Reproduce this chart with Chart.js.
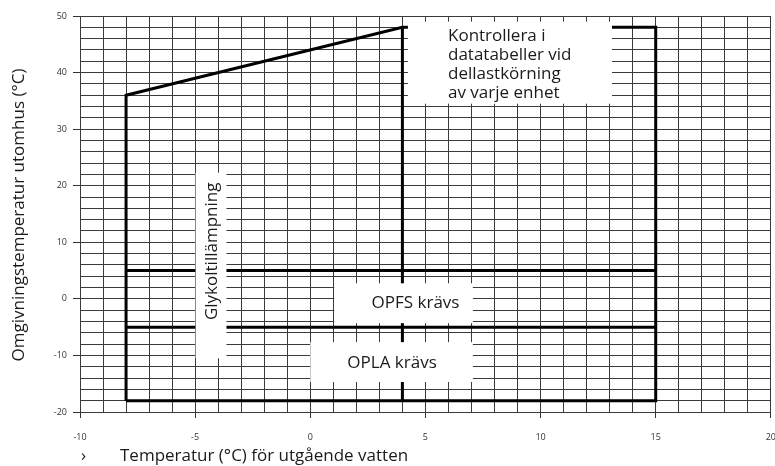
<!DOCTYPE html>
<html>
<head>
<meta charset="utf-8">
<script src="https://cdn.jsdelivr.net/npm/chart.js@4/dist/chart.umd.min.js"></script>
<style>
  html, body { margin: 0; padding: 0; background: #fff; overflow: hidden; width: 775px; height: 466px; }
  canvas { display: block; }
</style>
</head>
<body>
<canvas id="chart" width="790" height="466"></canvas>
<script>
// operating envelope (outer boundary)
var envelopeX = [-8, -8, 4, 15, 15, -8];
var envelopeY = [-18, 36, 48, 48, -18, -18];
// divider at 4 °C leaving water
var dividerX = [4, 4];
var dividerY = [48, -18];
// OPFS limit and OPLA limit
var opfsX = [-8, 15];
var opfsY = [5, 5];
var oplaX = [-8, 15];
var oplaY = [-5, -5];

var xTicks = [-10, -5, 0, 5, 10, 15, 20];
var yTicks = [-20, -10, 0, 10, 20, 30, 40, 50];

function pts(xs, ys) {
    var out = [];
    for (var i = 0; i < xs.length; i++) out.push({x: xs[i], y: ys[i]});
    return out;
}

var FONT = '"Open Sans", "Noto Sans", sans-serif';

// white label boxes, in chart units
var boxes = [
    {x0: 4.24, x1: 13.1, y0: 34.5, y1: 49.0},
    {x0: -4.98, x1: -3.64, y0: -10.5, y1: 22.3},
    {x0: 1.04, x1: 7.06, y0: -4.3, y1: 2.75},
    {x0: 0, x1: 7.06, y0: -14.7, y1: -7.65}
];

var labelPlugin = {
    id: 'labels',
    afterDatasetsDraw: function(chart) {
        var ctx = chart.ctx, sx = chart.scales.x, sy = chart.scales.y;
        ctx.save();
        ctx.fillStyle = '#fff';
        boxes.forEach(function(b) {
            var l = sx.getPixelForValue(b.x0), r = sx.getPixelForValue(b.x1);
            var t = sy.getPixelForValue(b.y1), btm = sy.getPixelForValue(b.y0);
            ctx.fillRect(l, t, r - l, btm - t);
        });
        ctx.fillStyle = '#1a1a1a';
        ctx.font = '17px ' + FONT;
        ctx.textBaseline = 'middle';
        ctx.textAlign = 'left';
        var lines = ['Kontrollera i', 'datatabeller vid', 'dellastkörning', 'av varje enhet'];
        var kx = sx.getPixelForValue(5.98), ky = sy.getPixelForValue(46.4);
        lines.forEach(function(s, i) { ctx.fillText(s, kx, ky + i * 19); });
        ctx.textAlign = 'center';
        ctx.fillText('OPFS krävs', sx.getPixelForValue(4.57), sy.getPixelForValue(-0.8));
        ctx.fillText('OPLA krävs', sx.getPixelForValue(3.55), sy.getPixelForValue(-11.4));
        ctx.save();
        ctx.translate(sx.getPixelForValue(-4.25), sy.getPixelForValue(8.4));
        ctx.rotate(-Math.PI / 2);
        ctx.fillText('Glykoltillämpning', 0, 0);
        ctx.restore();
        ctx.restore();
    },
    afterDraw: function(chart) {
        var ctx = chart.ctx;
        ctx.save();
        ctx.fillStyle = '#1a1a1a';
        ctx.font = '17px ' + FONT;
        ctx.textBaseline = 'middle';
        ctx.textAlign = 'center';
        ctx.save();
        ctx.translate(19, 215);
        ctx.rotate(-Math.PI / 2);
        ctx.fillText('Omgivningstemperatur utomhus (°C)', 0, 0);
        ctx.restore();
        ctx.textAlign = 'left';
        ctx.fillText('›', 81, 456);
        ctx.fillText('Temperatur (°C) för utgående vatten', 120, 456);
        ctx.restore();
    }
};

function line(xs, ys) {
    return {
        data: pts(xs, ys),
        showLine: true,
        borderColor: '#000',
        borderWidth: 3,
        pointRadius: 0,
        tension: 0,
        fill: false
    };
}

new Chart(document.getElementById('chart'), {
    type: 'scatter',
    data: {
        datasets: [
            line(envelopeX, envelopeY),
            line(dividerX, dividerY),
            line(opfsX, opfsY),
            line(oplaX, oplaY)
        ]
    },
    options: {
        responsive: false,
        animation: false,
        layout: { padding: { left: 0, right: 13, top: 16, bottom: 0 } },
        plugins: { legend: { display: false }, tooltip: { enabled: false } },
        scales: {
            x: {
                type: 'linear',
                min: xTicks[0],
                max: xTicks[xTicks.length - 1],
                afterFit: function(s) { s.height = 54; },
                ticks: {
                    stepSize: 1,
                    autoSkip: false,
                    maxRotation: 0,
                    padding: 14,
                    color: '#333',
                    font: { size: 9, family: FONT },
                    callback: function(v) { return xTicks.indexOf(v) >= 0 ? String(v) : ''; }
                },
                grid: {
                    color: '#3a3a3a',
                    lineWidth: 1,
                    tickLength: 6,
                    tickColor: function(c) { return c.tick && xTicks.indexOf(c.tick.value) >= 0 ? '#333' : 'rgba(0,0,0,0)'; }
                },
                border: { color: '#3a3a3a' }
            },
            y: {
                type: 'linear',
                min: yTicks[0],
                max: yTicks[yTicks.length - 1],
                afterFit: function(s) { s.width = 80; },
                ticks: {
                    stepSize: 2,
                    autoSkip: false,
                    padding: 6,
                    color: '#333',
                    font: { size: 9, family: FONT },
                    callback: function(v) { return yTicks.indexOf(v) >= 0 ? String(v) : ''; }
                },
                grid: {
                    color: '#3a3a3a',
                    lineWidth: 1,
                    tickLength: 7,
                    tickColor: function(c) { return c.tick && yTicks.indexOf(c.tick.value) >= 0 ? '#333' : 'rgba(0,0,0,0)'; }
                },
                border: { color: '#3a3a3a' }
            }
        }
    },
    plugins: [labelPlugin]
});
</script>
</body>
</html>
